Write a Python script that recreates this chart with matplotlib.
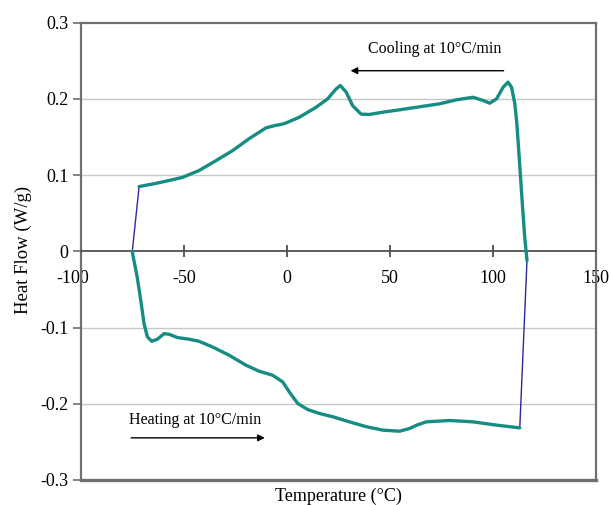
import matplotlib
matplotlib.use("Agg")
import matplotlib.pyplot as plt
import matplotlib.transforms as mtransforms
from matplotlib.ticker import FuncFormatter

plt.rcParams['font.family'] = ['Liberation Serif', 'DejaVu Serif']
plt.rcParams['axes.unicode_minus'] = False

# Cooling scan (right to left)
cool_T = [116.5, 115.3, 114.2, 113.2, 112.3, 111.5, 110.6, 109.0, 107.3, 104.9, 101.7,
          98.4, 95.1, 90.3, 82.2, 74.1, 62.7, 54.6, 46.5, 40.0, 36.0, 31.9, 28.7,
          25.9, 23.8, 19.7, 14.1, 6.0, 0.0, -2.1, -6.0, -10.2, -18.3, -26.5, -34.5,
          -42.7, -50.8, -57.2, -64.0, -71.8]
cool_HF = [-0.012, 0.022, 0.064, 0.104, 0.140, 0.170, 0.1936, 0.2153, 0.222, 0.2153, 0.200,
           0.1944, 0.198, 0.2022, 0.1988, 0.1936, 0.189, 0.1857, 0.1826, 0.1796, 0.180, 0.191, 0.209,
           0.2176, 0.213, 0.200, 0.189, 0.176, 0.169, 0.167, 0.165, 0.162, 0.148, 0.132, 0.119,
           0.106, 0.097, 0.093, 0.089, 0.085]

# Heating scan (left to right)
heat_T = [-75.1, -74.8, -72.7, -71.0, -69.4, -67.8, -65.7, -62.9, -59.7, -57.2, -53.2,
          -47.5, -42.7, -36.2, -28.1, -19.9, -13.5, -7.0, -2.1, 1.1, 5.2, 10.0, 15.7,
          22.2, 30.3, 38.4, 46.5, 54.6, 59.5, 63.0, 67.6, 79.0, 90.3, 101.7, 113.0]
heat_HF = [0.000, -0.005, -0.034, -0.064, -0.095, -0.112, -0.118, -0.1153, -0.108, -0.1088, -0.1131,
           -0.1153, -0.118, -0.1254, -0.1363, -0.1494, -0.1573, -0.1625, -0.1713, -0.1844, -0.1996, -0.2075, -0.2127,
           -0.217, -0.2237, -0.230, -0.2346, -0.236, -0.2324, -0.228, -0.2237, -0.2219, -0.2237, -0.228, -0.2316]

x_ticks = [-100, -50, 0, 50, 100, 150]
y_ticks = [-0.3, -0.2, -0.1, 0, 0.1, 0.2, 0.3]

teal = '#158d83'
navy = '#2a2a9c'
frame = '#707070'

fig = plt.figure(figsize=(6.10, 5.05), dpi=100)
ax = fig.add_axes([81/610, 25/505, 515/610, 457.3/505])

ax.set_xlim(-100, 150)
ax.set_ylim(-0.3, 0.3)

for y in [-0.2, -0.1, 0.1, 0.2]:
    ax.axhline(y, color='#c8c8c8', lw=1.0, zorder=0)

# connectors
ax.plot([cool_T[-1], heat_T[0]], [cool_HF[-1], heat_HF[0]], color=navy, lw=1.0, zorder=2)
ax.plot([heat_T[-1], cool_T[0]], [heat_HF[-1], cool_HF[0]], color=navy, lw=1.0, zorder=2)

ax.plot(cool_T, cool_HF, color=teal, lw=2.4, solid_joinstyle='round', solid_capstyle='round', zorder=3)
ax.plot(heat_T, heat_HF, color=teal, lw=2.4, solid_joinstyle='round', solid_capstyle='round', zorder=3)

# spines
for s in ['left', 'right', 'top']:
    ax.spines[s].set_color(frame)
    ax.spines[s].set_linewidth(1.6)
ax.spines['bottom'].set_position(('data', 0))
ax.spines['bottom'].set_color('#505050')
ax.spines['bottom'].set_linewidth(1.3)
ax.axhline(-0.3, color=frame, lw=2.4, clip_on=False, zorder=5)

ax.set_xticks(x_ticks)
ax.set_yticks(y_ticks)
ax.xaxis.set_major_formatter(FuncFormatter(lambda v, p: f"{v:g}"))
ax.yaxis.set_major_formatter(FuncFormatter(lambda v, p: f"{v:g}"))
ax.tick_params(axis='x', direction='inout', length=9, width=1.2, color='#404040',
               pad=9, labelsize=13)
ax.tick_params(axis='y', direction='out', length=6, width=1.2, color=frame,
               pad=3, labelsize=13)

# first x tick label sits slightly left of its tick, as in the reference
first = ax.xaxis.get_major_ticks()[0].label1
first.set_transform(first.get_transform() +
                    mtransforms.ScaledTranslation(-8/100, 0, fig.dpi_scale_trans))

fig.text(23/610, 1 - 250/505, 'Heat Flow (W/g)', rotation=90, ha='center', va='center', fontsize=13.5)
fig.text(338/610, 4/505, 'Temperature (°C)', ha='center', va='baseline', fontsize=13)

ax.annotate('', xy=(29.5, 0.237), xytext=(106.5, 0.237),
            arrowprops=dict(arrowstyle='-|>', color='black', lw=1.0, mutation_scale=10))
ax.text(71.6, 0.266, 'Cooling at 10°C/min', ha='center', va='center', fontsize=11.5)

ax.annotate('', xy=(-9.4, -0.2447), xytext=(-77, -0.2447),
            arrowprops=dict(arrowstyle='-|>', color='black', lw=1.0, mutation_scale=10))
ax.text(-76.7, -0.2215, 'Heating at 10°C/min', ha='left', va='center', fontsize=11.5)

fig.savefig('out.png', dpi=100)
